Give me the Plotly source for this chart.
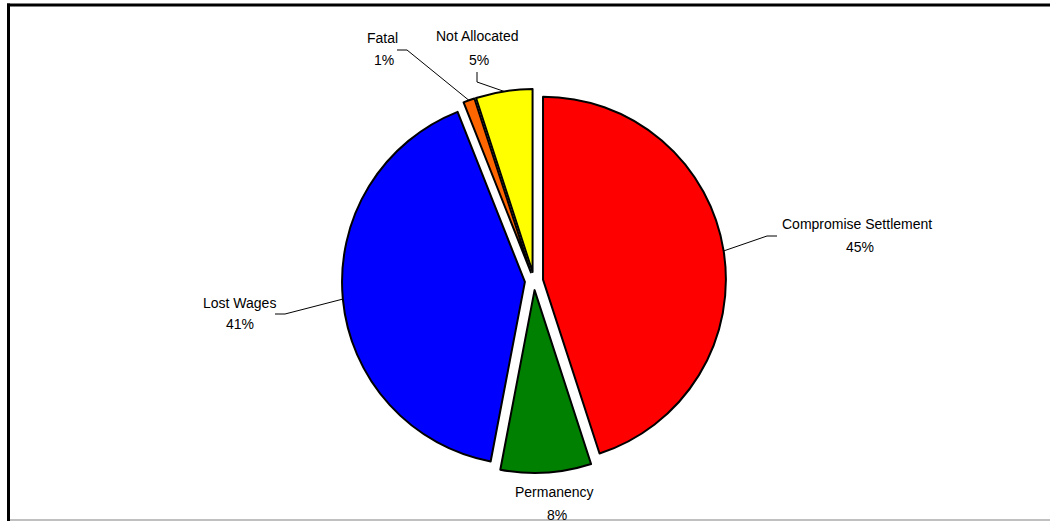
import math
import plotly.graph_objects as go

# ---- data ----
categories = ["Compromise Settlement", "Permanency", "Lost Wages", "Fatal", "Not Allocated"]
values = [45, 8, 41, 1, 5]
pct_labels = ["45%", "8%", "41%", "1%", "5%"]
colors = ["#FF0000", "#008000", "#0000FF", "#FF6600", "#FFFF00"]

# ---- layout (pixels) ----
W, H = 1050, 521
CX, CY = 534, 281          # pie centre
R_OUT = 192                # radius including pull
PULL = 0.05
R = R_OUT / (1 + PULL)

# label placement: name centre, pct centre, leader points (elbow, end)
label_layout = [
    dict(name=(857, 224), pct=(860, 247), leader=[(767, 236), (777, 236)]),
    dict(name=(554, 492), pct=(557, 515), leader=None),
    dict(name=(239, 303), pct=(240, 324), leader=[(285, 314), (275, 314)]),
    dict(name=(382, 38), pct=(384, 60), leader=[(407, 50), (397, 50)]),
    dict(name=(477, 36), pct=(479, 60), leader=[(477, 82), (477, 72)]),
]

FONT = dict(family="Arial, Liberation Sans, sans-serif", size=14, color="#000000")


def px(x):
    return x / W


def py(y):
    return 1 - y / H


fig = go.Figure(
    go.Pie(
        labels=categories,
        values=values,
        sort=False,
        direction="clockwise",
        rotation=0,
        pull=[PULL] * len(values),
        marker=dict(colors=colors, line=dict(color="#000000", width=2)),
        textinfo="none",
        hoverinfo="label+percent",
        domain=dict(x=[px(CX - R_OUT), px(CX + R_OUT)], y=[py(CY + R_OUT), py(CY - R_OUT)]),
        showlegend=False,
    )
)

annotations = []
shapes = []
total = sum(values)
cum = 0
for i, v in enumerate(values):
    mid = (cum + v / 2) / total * 2 * math.pi
    cum += v
    lay = label_layout[i]
    for key, txt in (("name", categories[i]), ("pct", pct_labels[i])):
        x, y = lay[key]
        annotations.append(dict(x=px(x), y=py(y), xref="paper", yref="paper", text=txt,
                                showarrow=False, font=FONT, xanchor="center", yanchor="middle"))
    if lay["leader"]:
        sx = CX + PULL * R * math.sin(mid) + R * math.sin(mid)
        sy = CY - PULL * R * math.cos(mid) - R * math.cos(mid)
        pts = [(sx, sy)] + lay["leader"]
        for (x0, y0), (x1, y1) in zip(pts[:-1], pts[1:]):
            shapes.append(dict(type="line", xref="paper", yref="paper",
                               x0=px(x0), y0=py(y0), x1=px(x1), y1=py(y1),
                               line=dict(color="#000000", width=1)))

# frame
shapes += [
    dict(type="line", xref="paper", yref="paper", x0=px(8.5), y0=py(3.5), x1=px(8.5), y1=py(521),
         line=dict(color="#000000", width=3)),
    dict(type="line", xref="paper", yref="paper", x0=px(7), y0=py(5), x1=px(1050), y1=py(5),
         line=dict(color="#000000", width=3)),
    dict(type="line", xref="paper", yref="paper", x0=px(10), y0=py(520), x1=px(1050), y1=py(520),
         line=dict(color="#C0C0C0", width=2)),
]

fig.update_layout(
    width=W, height=H,
    margin=dict(l=0, r=0, t=0, b=0),
    paper_bgcolor="#FFFFFF",
    plot_bgcolor="#FFFFFF",
    annotations=annotations,
    shapes=shapes,
)

fig.write_html(
    "out.html",
    config={"displayModeBar": False},
    post_script="document.body.style.margin='0';document.body.style.overflow='hidden';",
)
